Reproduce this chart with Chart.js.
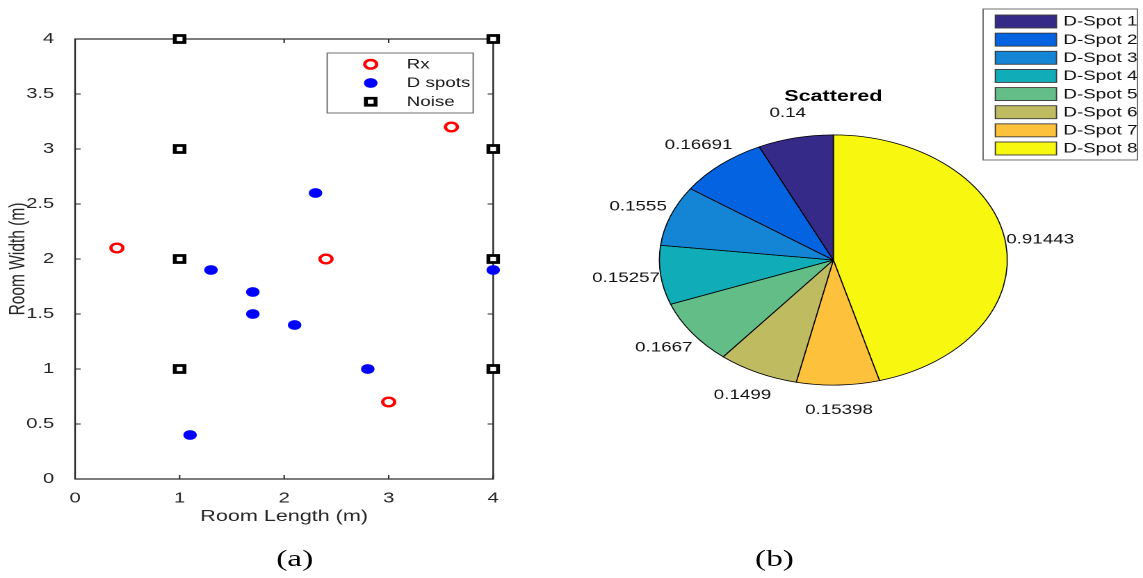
<!DOCTYPE html>
<html><head><meta charset="utf-8">
<script src="https://cdn.jsdelivr.net/npm/chart.js@4/dist/chart.umd.min.js"></script>
<style>
html,body{margin:0;padding:0;background:#fff;overflow:hidden;width:1143px;height:578px;}
#wrap{position:absolute;left:0;top:0;width:822px;height:578px;transform:scaleX(1.3905);transform-origin:0 0;}
canvas{position:absolute;left:0;top:0;}
.cap{position:absolute;font-family:"Liberation Serif","Times New Roman",serif;font-size:24px;color:#000;width:60px;text-align:center;line-height:30px;top:543px;}
</style></head><body>
<div id="wrap">
<canvas id="scatter" width="822" height="578"></canvas>
<canvas id="pie" width="822" height="578"></canvas>
<div class="cap" style="left:182px">(a)</div>
<div class="cap" style="left:527px">(b)</div>
</div>
<script>
// ---- data ----
const rxX = [0.4, 2.4, 3.6, 3.0];
const rxY = [2.1, 2.0, 3.2, 0.7];
const dX = [1.3, 1.7, 1.7, 2.1, 2.3, 2.8, 1.1, 4.0];
const dY = [1.9, 1.7, 1.5, 1.4, 2.6, 1.0, 0.4, 1.9];
const nX = [1, 1, 1, 1, 4, 4, 4, 4];
const nY = [4, 3, 2, 1, 4, 3, 2, 1];
const xTicks = [0, 1, 2, 3, 4];
const yTicks = [0, 0.5, 1, 1.5, 2, 2.5, 3, 3.5, 4];
const seriesNames = ['Rx', 'D spots', 'Noise'];
const xTitle = 'Room Length (m)';
const yTitle = 'Room Width (m)';

const pieLabels = ['D-Spot 1','D-Spot 2','D-Spot 3','D-Spot 4','D-Spot 5','D-Spot 6','D-Spot 7','D-Spot 8'];
const pieValues = [0.14, 0.16691, 0.1555, 0.15257, 0.1667, 0.1499, 0.15398, 0.91443];
const pieColors = ['#352a87','#0363e1','#1485d4','#10adb9','#62bd87','#bfbb61','#fec13b','#f7f710'];
const pieTitle = 'Scattered';

const FONT = '"Liberation Sans", Arial, Helvetica, sans-serif';
const TXT = '#262626';
Chart.defaults.font.family = FONT;

const pts = (xs, ys) => xs.map((x, i) => ({x: x, y: ys[i]}));

// ---- scatter plugins ----
const boxPlugin = {
  id: 'box',
  beforeDatasetsDraw(chart) {
    const {ctx, chartArea: a, scales} = chart;
    ctx.save();
    ctx.strokeStyle = TXT;
    ctx.lineWidth = 1.2;
    ctx.strokeRect(a.left, a.top, a.right - a.left, a.bottom - a.top);
    ctx.beginPath();
    xTicks.forEach(v => {
      const px = scales.x.getPixelForValue(v);
      ctx.moveTo(px, a.bottom); ctx.lineTo(px, a.bottom - 4);
      ctx.moveTo(px, a.top); ctx.lineTo(px, a.top + 4);
    });
    yTicks.forEach(v => {
      const py = scales.y.getPixelForValue(v);
      ctx.moveTo(a.left, py); ctx.lineTo(a.left + 4, py);
      ctx.moveTo(a.right, py); ctx.lineTo(a.right - 4, py);
    });
    ctx.lineWidth = 1;
    ctx.stroke();
    ctx.restore();
  }
};
const scatterLegend = {
  id: 'scatterLegend',
  afterDraw(chart) {
    const {ctx} = chart;
    ctx.save();
    ctx.fillStyle = '#fff';
    ctx.fillRect(235.3, 53, 105, 60);
    ctx.strokeStyle = '#707070';
    ctx.lineWidth = 1;
    ctx.strokeRect(235.3, 53, 105, 60);
    const rows = [64.3, 83, 101.7];
    chart.data.datasets.forEach((ds, i) => {
      ctx.fillStyle = ds.backgroundColor;
      ctx.strokeStyle = ds.borderColor;
      ctx.lineWidth = ds.borderWidth;
      Chart.helpers.drawPoint(ctx, {pointStyle: ds.pointStyle, radius: ds.pointRadius, rotation: 0, borderWidth: ds.borderWidth}, 266.6, rows[i]);
      ctx.fillStyle = '#1a1a1a';
      ctx.font = '13.5px ' + FONT;
      ctx.textAlign = 'left';
      ctx.textBaseline = 'middle';
      ctx.fillText(ds.label, 292.5, rows[i] + 0.5);
    });
    ctx.restore();
  }
};

new Chart(document.getElementById('scatter'), {
  type: 'scatter',
  data: {
    datasets: [
      {label: seriesNames[0], data: pts(rxX, rxY), pointStyle: 'circle', pointRadius: 4.3, borderWidth: 2.4,
       borderColor: '#ff0000', backgroundColor: 'rgba(255,255,255,0)', clip: false},
      {label: seriesNames[1], data: pts(dX, dY), pointStyle: 'circle', pointRadius: 4.4, borderWidth: 1,
       borderColor: '#0000ff', backgroundColor: '#0000ff', clip: false},
      {label: seriesNames[2], data: pts(nX, nY), pointStyle: 'rect', pointRadius: 4.9, borderWidth: 2.8,
       borderColor: '#000000', backgroundColor: '#ffffff', clip: false}
    ]
  },
  options: {
    responsive: false, animation: false, devicePixelRatio: 2,
    layout: {padding: {left: 0, top: 39, right: 467.3, bottom: 0}},
    plugins: {legend: {display: false}, tooltip: {enabled: false}},
    elements: {point: {hoverRadius: 0}},
    scales: {
      x: {
        type: 'linear', min: 0, max: 4,
        afterBuildTicks: s => { s.ticks = xTicks.map(v => ({value: v})); },
        afterFit: s => { s.height = 99; },
        grid: {display: false}, border: {display: false},
        ticks: {padding: 3, color: TXT, font: {size: 14.5}, maxRotation: 0, autoSkip: false, callback: v => String(v)},
        title: {display: true, text: xTitle, color: TXT, font: {size: 15.5}, padding: {top: 0, bottom: 52}}
      },
      y: {
        type: 'linear', min: 0, max: 4,
        afterBuildTicks: s => { s.ticks = yTicks.map(v => ({value: v})); },
        afterFit: s => { s.width = 54; },
        grid: {display: false}, border: {display: false},
        ticks: {padding: 7, color: TXT, font: {size: 14.5}, autoSkip: false, callback: v => String(v)},
        title: {display: true, text: yTitle, color: TXT, font: {size: 15.5}, padding: {top: 4, bottom: 0}}
      }
    }
  },
  plugins: [boxPlugin, scatterLegend]
});

// ---- pie ----
const pieDeco = {
  id: 'pieDeco',
  afterDatasetsDraw(chart) {
    const {ctx} = chart;
    const meta = chart.getDatasetMeta(0);
    const vals = chart.data.datasets[0].data;
    ctx.save();
    ctx.font = '13.5px ' + FONT;
    ctx.fillStyle = '#111';
    ctx.textAlign = 'center';
    ctx.textBaseline = 'middle';
    meta.data.forEach((el, i) => {
      const mid = (el.startAngle + el.endAngle) / 2;
      const r = el.outerRadius * 1.2;
      ctx.fillText(String(vals[i]), el.x + r * Math.cos(mid), el.y + r * Math.sin(mid));
    });
    const c = meta.data[0];
    ctx.font = 'bold 15.5px ' + FONT;
    ctx.fillStyle = '#000';
    ctx.textBaseline = 'alphabetic';
    ctx.fillText(pieTitle, c.x, 101);
    // legend (in D-Spot 1..8 order)
    ctx.fillStyle = '#fff';
    ctx.fillRect(707, 9, 111, 151);
    ctx.strokeStyle = '#707070';
    ctx.lineWidth = 1;
    ctx.strokeRect(707, 9, 111, 151);
    pieLabels.forEach((lab, i) => {
      const yc = 21.5 + i * 18.14;
      ctx.fillStyle = pieColors[i];
      ctx.fillRect(715.8, yc - 6.5, 44, 13);
      ctx.strokeStyle = '#3a3a3a';
      ctx.lineWidth = 0.9;
      ctx.strokeRect(715.8, yc - 6.5, 44, 13);
      ctx.fillStyle = '#111';
      ctx.font = '13.5px ' + FONT;
      ctx.textAlign = 'left';
      ctx.textBaseline = 'middle';
      ctx.fillText(lab, 764.7, yc + 0.5);
    });
    ctx.restore();
  }
};

const rev = a => a.slice().reverse();
new Chart(document.getElementById('pie'), {
  type: 'pie',
  data: {
    labels: rev(pieLabels),
    datasets: [{data: rev(pieValues), backgroundColor: rev(pieColors), borderColor: '#000', borderWidth: 0.8, hoverOffset: 0}]
  },
  options: {
    responsive: false, animation: false, devicePixelRatio: 2,
    layout: {padding: {left: 473.8, right: 97.2, top: 134.5, bottom: 192.5}},
    plugins: {legend: {display: false}, tooltip: {enabled: false}}
  },
  plugins: [pieDeco]
});
</script>
</body></html>
